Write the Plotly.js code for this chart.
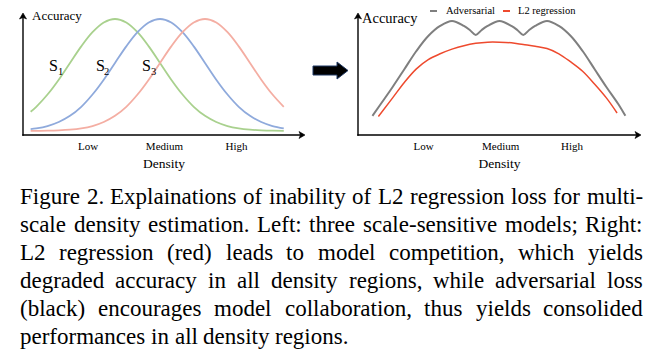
<!DOCTYPE html>
<html><head><meta charset="utf-8">
<script src="https://cdn.plot.ly/plotly-3.0.1.min.js"></script>
<style>html,body{margin:0;padding:0;background:#fff;} #chart{width:658px;height:354px;}</style>
</head><body><div id="chart"></div>
<script>
// ---- data ----
const densityX = [0.25,0.5,1,1.5,2,2.5,3,3.5,4,4.5,5,5.5,6,6.5,7,7.5,8,8.5,9,9.5,10,10.5,11,11.5];
const accS1 = [0.200,0.243,0.349,0.477,0.621,0.764,0.886,0.970,1.000,0.970,0.886,0.764,0.621,0.477,0.349,0.243,0.165,0.112,0.077,0.057,0.046,0.040,0.037,0.036];
const accS2 = [0.051,0.057,0.077,0.112,0.165,0.243,0.349,0.477,0.621,0.764,0.886,0.970,1.000,0.970,0.886,0.764,0.621,0.477,0.349,0.243,0.165,0.112,0.077,0.057];
const accS3 = [0.035,0.036,0.037,0.040,0.046,0.057,0.077,0.112,0.165,0.243,0.349,0.477,0.621,0.764,0.886,0.970,1.000,0.970,0.886,0.764,0.621,0.477,0.349,0.243];

const advX   = [0.65,1,1.5,2,2.5,3,3.5,4,4.5,4.75,5,5.25,5.5,6,6.5,6.75,7,7.25,7.5,8,8.5,9,9.5,10,10.5,11,11.3];
const advAcc = [0.165,0.267,0.414,0.569,0.724,0.853,0.940,0.983,0.940,0.905,0.862,0.905,0.940,0.983,0.940,0.905,0.862,0.905,0.940,0.983,0.940,0.853,0.724,0.569,0.414,0.267,0.165];

const l2X   = [0.9,1.5,2,2.5,3,3.5,4,4.5,5,5.5,6,6.5,7,7.5,8,8.5,9,9.5,10,10.5,10.95];
const l2Acc = [0.16,0.32,0.455,0.57,0.65,0.70,0.74,0.77,0.79,0.80,0.80,0.795,0.78,0.765,0.745,0.70,0.63,0.55,0.44,0.32,0.19];

const tickLabels = ['Low','Medium','High'];
const leftTickPos = [2.8,6.2,9.4];
const rightTickPos = [2.8,6.05,9.05];
const seriesNames = ['S1','S2','S3','Adversarial','L2 regression'];
const captionLines = [
  'Figure 2. Explainations of inability of L2 regression loss for multi-',
  'scale density estimation. Left: three scale-sensitive models; Right:',
  'L2 regression (red) leads to model competition, which yields',
  'degraded accuracy in all density regions, while adversarial loss',
  '(black) encourages model collaboration, thus yields consolided',
  'performances in all density regions.'
];

// ---- layout helpers ----
const W = 658, H = 354;
const px = x => x / W;
const py = y => 1 - y / H;
const FONT = '"Liberation Serif", "Times New Roman", serif';

const data = [
  {x: densityX, y: accS1, name: seriesNames[0], mode:'lines', line:{color:'#a9d18e', width:1.8, shape:'spline'}, xaxis:'x', yaxis:'y'},
  {x: densityX, y: accS2, name: seriesNames[1], mode:'lines', line:{color:'#8faadc', width:1.8, shape:'spline'}, xaxis:'x', yaxis:'y'},
  {x: densityX, y: accS3, name: seriesNames[2], mode:'lines', line:{color:'#f4aea3', width:1.8, shape:'spline'}, xaxis:'x', yaxis:'y'},
  {x: advX, y: advAcc, name: seriesNames[3], mode:'lines', line:{color:'#7f7f7f', width:2, shape:'spline'}, xaxis:'x2', yaxis:'y2'},
  {x: l2X, y: l2Acc, name: seriesNames[4], mode:'lines', line:{color:'#ee4a2e', width:1.5, shape:'spline'}, xaxis:'x2', yaxis:'y2'}
];

const xCommon = {
  showgrid:false, zeroline:false, showline:false, ticks:'',
  tickfont:{family:FONT, size:11, color:'#000'},
  ticklabelstandoff: 3,
  fixedrange:true
};
const yCommon = {
  showgrid:false, zeroline:false, showline:false, ticks:'', showticklabels:false,
  range:[0,1.1], domain:[py(135), py(7.4)], fixedrange:true
};

const shapes = [];
function pathOf(pts) {
  return 'M' + pts.map(p => `${px(p[0])},${py(p[1])}`).join(' L') + ' Z';
}
function hAxis(x0, x1, y) {
  shapes.push({type:'line', xref:'paper', yref:'paper', x0:px(x0), x1:px(x1 - 4), y0:py(y), y1:py(y), line:{color:'#000', width:1.4}});
  shapes.push({type:'path', xref:'paper', yref:'paper', path:pathOf([[x1-6,y-3.5],[x1,y],[x1-6,y+3.5],[x1-4.5,y]]), fillcolor:'#000', line:{color:'#000', width:0.6}});
}
function vAxis(x, y0, y1) {
  shapes.push({type:'line', xref:'paper', yref:'paper', x0:px(x), x1:px(x), y0:py(y0), y1:py(y1 + 4), line:{color:'#000', width:1.4}});
  shapes.push({type:'path', xref:'paper', yref:'paper', path:pathOf([[x-3.5,y1+6],[x,y1],[x+3.5,y1+6],[x,y1+4.5]]), fillcolor:'#000', line:{color:'#000', width:0.6}});
}
hAxis(22.3, 305, 135);
vAxis(23, 135.7, 13);
hAxis(357.3, 641, 135);
vAxis(358, 135.7, 13);

// thick arrow between the panels
shapes.push({type:'path', xref:'paper', yref:'paper',
  path:pathOf([[313,66],[337,66],[337,62],[348,70.5],[337,79],[337,75],[313,75]]),
  fillcolor:'#000', line:{color:'#1f3864', width:1}});
// legend line samples
shapes.push({type:'line', xref:'paper', yref:'paper', x0:px(430), x1:px(437), y0:py(11), y1:py(11), line:{color:'#7f7f7f', width:2}});
shapes.push({type:'line', xref:'paper', yref:'paper', x0:px(503), x1:px(510), y0:py(11), y1:py(11), line:{color:'#ee4a2e', width:2}});

const annotations = [];
function label(text, cx, cy, size, anchor) {
  annotations.push({xref:'paper', yref:'paper', x:px(cx), y:py(cy), text:text, showarrow:false,
    xanchor:anchor||'center', yanchor:'middle', font:{family:FONT, size:size, color:'#000'}});
}
label('Accuracy', 57, 15, 13);
label('Accuracy', 390, 18, 14.5);
// S labels: letter plus a smaller, lowered index
[['1', 47], ['2', 94], ['3', 140]].forEach(([n, x0]) => {
  label('S', x0, 66, 16, 'left');
  label(n, x0 + 8.5, 71, 10.5, 'left');
});
label('Adversarial', 444, 11, 10.5, 'left');
label('L2 regression', 516, 11, 10.5, 'left');

// justified caption: one annotation per word, spacing computed from measured word widths
const CAP_SIZE = 23, CAP_LEFT = 18, CAP_RIGHT = 641;
const capY = [196, 224, 252, 280, 308, 336];
const ctx = document.createElement('canvas').getContext('2d');
ctx.font = `${CAP_SIZE}px "Liberation Serif"`;
const spaceW = ctx.measureText(' ').width;
captionLines.forEach((lineText, i) => {
  const words = lineText.split(' ');
  const widths = words.map(w => ctx.measureText(w).width);
  const total = widths.reduce((a, b) => a + b, 0);
  const last = i === captionLines.length - 1;
  const gap = last ? spaceW : (CAP_RIGHT - CAP_LEFT - total) / (words.length - 1);
  let x = CAP_LEFT;
  words.forEach((w, k) => {
    label(w, x, capY[i], CAP_SIZE, 'left');
    x += widths[k] + gap;
  });
});

const layout = {
  width: W, height: H,
  margin:{l:0,r:0,t:0,b:0,pad:0},
  paper_bgcolor:'#fff', plot_bgcolor:'rgba(0,0,0,0)',
  font:{family:FONT, color:'#000'},
  showlegend:false,
  xaxis: Object.assign({}, xCommon, {domain:[px(23), px(305)], range:[-0.089, 12.444],
    tickvals:leftTickPos, ticktext:tickLabels, anchor:'y',
    title:{text:'Density', font:{family:FONT, size:13.5, color:'#000'}, standoff:7}}),
  yaxis: Object.assign({}, yCommon, {anchor:'x'}),
  xaxis2: Object.assign({}, xCommon, {domain:[px(358), px(641)], range:[0.042, 11.958],
    tickvals:rightTickPos, ticktext:tickLabels, anchor:'y2',
    title:{text:'Density', font:{family:FONT, size:13.5, color:'#000'}, standoff:7}}),
  yaxis2: Object.assign({}, yCommon, {anchor:'x2'}),
  annotations: annotations,
  shapes: shapes
};

Plotly.newPlot(document.getElementById('chart'), data, layout, {staticPlot:true, displayModeBar:false});
</script>
</body></html>
